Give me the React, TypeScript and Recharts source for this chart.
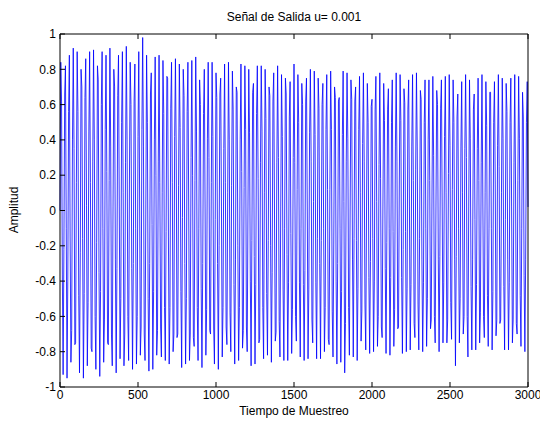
import { LineChart, Line, XAxis, YAxis } from 'recharts'

// output samples every 5 steps (0..3000)
const part1 = [
  0, 0.84, 0.62, -0.36, -0.93, -0.22, 0.66, 0.82, -0.1, -0.95, -0.4, 0.56, 0.88, -0.15, -0.86, -0.68, 0.4, 0.92, 0.35, -0.76, -0.75, 0.16, 0.9,
  0.56, -0.48, -0.92, -0.24, 0.8, 0.7, -0.16, -0.95, -0.47, 0.64, 0.86, 0.03, -0.88, -0.52, 0.45, 0.9, 0.16, -0.78, -0.8, 0.28, 0.91, 0.4, -0.6,
  -0.9, -0.18, 0.82, 0.74, -0.35, -0.94, -0.46, 0.6, 0.9, -0.1, -0.86, -0.62, 0.46, 0.88, 0.22, -0.75, -0.76, 0.17, 0.92, 0.36, -0.7, -0.88, 0.02,
  0.8, 0.7, -0.28, -0.92, -0.33, 0.65, 0.88, 0.02, -0.84, -0.5, 0.5, 0.9, 0.1, -0.88, -0.7, 0.27, 0.93, 0.4, -0.6, -0.85, 0.15, 0.84, 0.6,
  -0.33, -0.9, -0.3, 0.62, 0.83, -0.1, -0.87, -0.6, 0.42, 0.9, 0.15, -0.82, -0.66, 0.46, 0.98, 0.36, -0.7, -0.85, -0.02, 0.88, 0.5, -0.5, -0.91,
]
const part2 = [
  -0.3, 0.66, 0.78, -0.08, -0.9, -0.46, 0.4, 0.87, 0.2, -0.82, -0.68, 0.28, 0.88, 0.16, -0.66, -0.83, 0.1, 0.85, 0.55, -0.55, -0.85, -0.12, 0.76,
  0.75, -0.15, -0.87, -0.55, 0.58, 0.84, 0.16, -0.8, -0.7, 0.42, 0.86, 0.32, -0.72, -0.7, 0.14, 0.83, 0.47, -0.46, -0.89, -0.04, 0.8, 0.65, -0.3,
  -0.87, -0.5, 0.56, 0.84, 0.02, -0.85, -0.7, 0.3, 0.85, 0.2, -0.72, -0.77, 0.17, 0.87, 0.45, -0.55, -0.85, -0.1, 0.74, 0.6, -0.44, -0.89, -0.3,
  0.55, 0.8, 0.02, -0.82, -0.56, 0.41, 0.84, 0.3, -0.68, -0.7, 0.16, 0.84, 0.42, -0.66, -0.87, -0.05, 0.78, 0.64, -0.3, -0.9, -0.2, 0.66, 0.75,
  0.02, -0.83, -0.55, 0.35, 0.83, 0.16, -0.66, -0.76, 0.1, 0.84, 0.4, -0.58, -0.8, 0.14, 0.79, 0.57, -0.42, -0.87, -0.28, 0.7, 0.67, -0.2, -0.85,
]
const part3 = [
  -0.55, 0.4, 0.83, 0.22, -0.78, -0.68, 0.13, 0.82, 0.46, -0.66, -0.8, 0.02, 0.8, 0.44, -0.4, -0.88, -0.17, 0.67, 0.72, -0.26, -0.87, -0.42, 0.55,
  0.82, 0.18, -0.75, -0.73, 0.27, 0.82, 0.45, -0.55, -0.84, 0.1, 0.8, 0.52, -0.47, -0.82, -0.17, 0.7, 0.65, -0.2, -0.86, -0.35, 0.62, 0.78, -0.02,
  -0.74, -0.69, 0.27, 0.82, 0.3, -0.63, -0.83, 0.02, 0.77, 0.42, -0.45, -0.85, -0.1, 0.75, 0.66, -0.25, -0.85, -0.41, 0.53, 0.73, -0.13, -0.81, -0.56,
  0.3, 0.83, 0.27, -0.6, -0.74, 0.12, 0.77, 0.5, -0.41, -0.83, -0.1, 0.72, 0.6, -0.42, -0.85, -0.34, 0.62, 0.75, 0.02, -0.84, -0.45, 0.44, 0.8,
  0.28, -0.62, -0.75, 0.05, 0.79, 0.43, -0.41, -0.84, -0.16, 0.75, 0.58, -0.3, -0.84, -0.17, 0.6, 0.72, -0.1, -0.8, -0.55, 0.46, 0.77, 0.12, -0.73,
]
const part4 = [
  -0.76, 0.12, 0.79, 0.46, -0.57, -0.83, -0.19, 0.7, 0.64, -0.4, -0.87, -0.3, 0.62, 0.64, -0.1, -0.86, -0.46, 0.43, 0.79, 0.05, -0.92, -0.64, 0.28,
  0.78, 0.41, -0.55, -0.82, 0.02, 0.74, 0.63, -0.28, -0.83, -0.16, 0.62, 0.7, -0.17, -0.85, -0.44, 0.46, 0.76, 0.1, -0.74, -0.57, 0.38, 0.78, 0.28,
  -0.53, -0.79, 0.02, 0.72, 0.5, -0.38, -0.81, -0.29, 0.59, 0.63, -0.16, -0.8, -0.4, 0.57, 0.76, 0.05, -0.77, -0.6, 0.26, 0.78, 0.18, -0.66, -0.72,
  0.02, 0.72, 0.51, -0.33, -0.81, -0.18, 0.57, 0.69, -0.1, -0.82, -0.38, 0.5, 0.74, -0.12, -0.77, -0.56, 0.36, 0.78, 0.28, -0.67, -0.66, 0.15, 0.77,
  0.51, -0.38, -0.81, -0.22, 0.69, 0.61, -0.12, -0.8, -0.44, 0.57, 0.74, 0.02, -0.79, -0.42, 0.36, 0.77, 0.17, -0.64, -0.72, 0.23, 0.78, 0.36, -0.53,
]
const part5 = [
  -0.79, -0.16, 0.68, 0.63, -0.28, -0.8, -0.41, 0.5, 0.74, -0.1, -0.77, -0.5, 0.4, 0.74, 0.17, -0.67, -0.62, 0.15, 0.76, 0.31, -0.6, -0.75, 0.02,
  0.68, 0.6, -0.28, -0.8, -0.26, 0.58, 0.74, 0.02, -0.75, -0.41, 0.42, 0.76, 0.1, -0.75, -0.62, 0.21, 0.77, 0.37, -0.52, -0.73, 0.12, 0.74, 0.5,
  -0.28, -0.88, -0.26, 0.53, 0.66, -0.1, -0.75, -0.5, 0.36, 0.73, 0.1, -0.7, -0.6, 0.35, 0.77, 0.3, -0.6, -0.83, 0.02, 0.74, 0.41, -0.43, -0.79,
  -0.28, 0.57, 0.66, -0.05, -0.79, -0.42, 0.35, 0.75, 0.17, -0.75, -0.58, 0.27, 0.77, 0.15, -0.6, -0.72, 0.1, 0.73, 0.48, -0.48, -0.77, -0.1, 0.67,
  0.67, -0.1, -0.79, -0.46, 0.5, 0.73, 0.15, -0.71, -0.62, 0.37, 0.77, 0.25, -0.64, -0.62, 0.1, 0.75, 0.41, -0.43, -0.79, -0.05, 0.72, 0.56, -0.28,
  -0.79, -0.41, 0.5, 0.75, 0.02, -0.75, -0.62, 0.27, 0.77, 0.15, -0.64, -0.7, 0.17, 0.76, 0.41, -0.48, -0.77, -0.1, 0.67, 0.53, -0.37, -0.8, -0.28,
  0.5, 0.73, 0.02,
]

const STEP = 5
const xTicks = [0, 500, 1000, 1500, 2000, 2500, 3000]
const yTicks = [-1, -0.8, -0.6, -0.4, -0.2, 0, 0.2, 0.4, 0.6, 0.8, 1]

const samples = [...part1, ...part2, ...part3, ...part4, ...part5]
const data = samples.map((v, i) => ({ t: i * STEP, v }))

const font = 'Arial, "Liberation Sans", Helvetica, sans-serif'
const fmtY = (v: number) => String(Number(v.toFixed(1)))
const tickStyle = { fontSize: 12, fill: '#000', fontFamily: font }

export default function App() {
  return (
    <div
      style={{
        position: 'absolute',
        left: 0,
        top: 0,
        width: 540,
        height: 423,
        background: '#fff',
        fontFamily: font,
        color: '#000',
      }}
    >
      <div style={{ position: 'absolute', left: 60, width: 468, top: 10, textAlign: 'center', fontSize: 12 }}>
        Señal de Salida u= 0.001
      </div>
      <div style={{ position: 'absolute', left: 60, width: 468, top: 404, textAlign: 'center', fontSize: 12 }}>
        Tiempo de Muestreo
      </div>
      <div
        style={{
          position: 'absolute',
          left: 14,
          top: 210,
          fontSize: 12,
          transform: 'translate(-50%, -50%) rotate(-90deg)',
          whiteSpace: 'nowrap',
        }}
      >
        Amplitud
      </div>
      <LineChart width={540} height={423} data={data} margin={{ top: 14, right: 0, bottom: 16, left: 20 }}>
        <XAxis
          xAxisId='b'
          dataKey='t'
          type='number'
          domain={[0, 3000]}
          ticks={xTicks}
          height={20}
          tickSize={-5}
          tickMargin={8}
          stroke='#000'
          tick={tickStyle}
          interval={0}
        />
        <XAxis
          xAxisId='top'
          orientation='top'
          dataKey='t'
          type='number'
          domain={[0, 3000]}
          ticks={xTicks}
          height={20}
          tickSize={-5}
          stroke='#000'
          tickFormatter={() => ''}
        />
        <YAxis
          yAxisId='l'
          type='number'
          domain={[-1, 1]}
          ticks={yTicks}
          width={40}
          tickSize={-5}
          tickMargin={9}
          stroke='#000'
          tick={tickStyle}
          tickFormatter={fmtY}
          interval={0}
        />
        <YAxis
          yAxisId='r'
          orientation='right'
          type='number'
          domain={[-1, 1]}
          ticks={yTicks}
          width={12}
          tickSize={-5}
          stroke='#000'
          tickFormatter={() => ''}
        />
        <Line
          xAxisId='b'
          yAxisId='l'
          type='linear'
          dataKey='v'
          stroke='#0000ff'
          strokeWidth={0.8}
          dot={false}
          isAnimationActive={false}
        />
      </LineChart>
    </div>
  )
}
